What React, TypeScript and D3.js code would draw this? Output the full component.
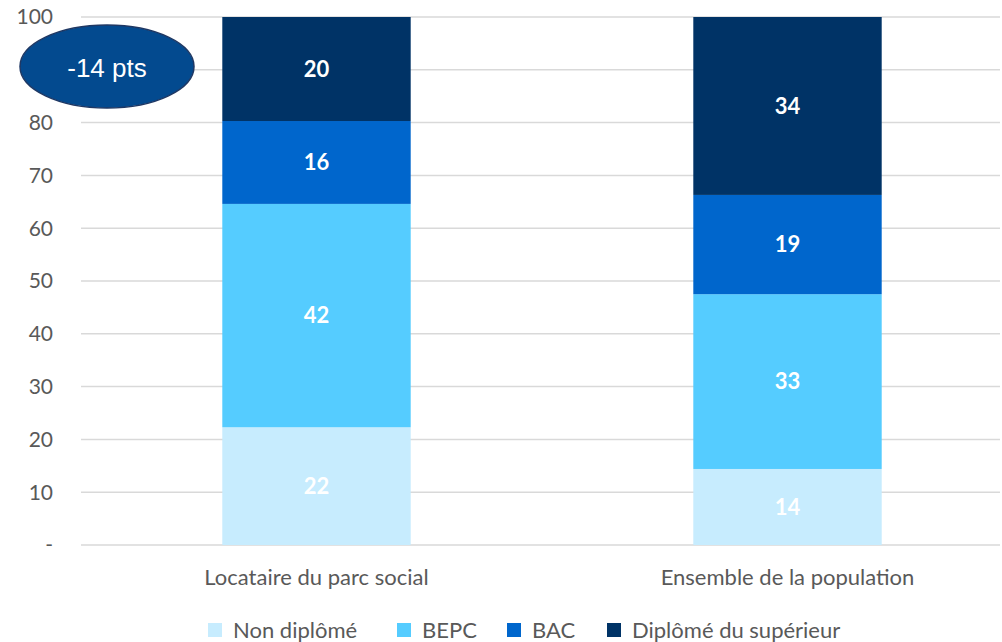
import React from "react";
import * as d3 from "d3";

const categories = ["Locataire du parc social", "Ensemble de la population"];
const seriesNames = ["Non diplômé", "BEPC", "BAC", "Diplômé du supérieur"];
const nonDiplome = [22.3, 14.4];
const bepc = [42.3, 33.1];
const bac = [15.7, 18.8];
const superieur = [19.7, 33.7];
const labelNonDiplome = ["22", "14"];
const labelBepc = ["42", "33"];
const labelBac = ["16", "19"];
const labelSuperieur = ["20", "34"];
const yTicks = [0, 10, 20, 30, 40, 50, 60, 70, 80, 90, 100];
const annotation = "-14 pts";

const colors = ["#C7ECFE", "#55CCFF", "#0066CC", "#003366"];
const W = 1002, H = 642;
const FONT = "Lato, 'Noto Sans', sans-serif";

export default function App() {
  const x = d3.scaleBand<string>().domain(categories).range([81, 1023]).paddingInner(0.6).paddingOuter(0.3);
  const y = d3.scaleLinear().domain([0, 100]).range([545, 17]);
  const series = [nonDiplome, bepc, bac, superieur];
  const labels = [labelNonDiplome, labelBepc, labelBac, labelSuperieur];
  const table = categories.map((c, i) => {
    const o: any = { cat: c };
    seriesNames.forEach((s, j) => (o[s] = series[j][i]));
    return o;
  });
  const stacked = d3.stack<any>().keys(seriesNames)(table);
  const legendX = [208, 397, 507, 607];

  return (
    <svg width={W} height={H} style={{ position: "absolute", left: 0, top: 0, background: "#fff" }} fontFamily={FONT}>
      {yTicks.map((t) => (
        <g key={t}>
          <line x1={81} x2={1000} y1={y(t)} y2={y(t)} stroke="#D9D9D9" strokeWidth={1.5} />
          <text x={53} y={y(t)} dy="0.35em" textAnchor="end" fontSize={21} fill="#595959">
            {t === 0 ? "-" : t}
          </text>
        </g>
      ))}
      {stacked.map((layer, j) => (
        <g key={layer.key}>
          {layer.map((d, i) => (
            <g key={i}>
              <rect x={x(categories[i])} width={x.bandwidth()} y={y(d[1])} height={y(d[0]) - y(d[1])} fill={colors[j]} />
              <text x={x(categories[i])! + x.bandwidth() / 2} y={(y(d[0]) + y(d[1])) / 2} dy="0.35em" textAnchor="middle" fontSize={22} fontWeight="bold" fill="#fff">
                {labels[j][i]}
              </text>
            </g>
          ))}
        </g>
      ))}
      {categories.map((c) => (
        <text key={c} x={x(c)! + x.bandwidth() / 2} y={577} dy="0.35em" textAnchor="middle" fontSize={22} fill="#595959">
          {c}
        </text>
      ))}
      {seriesNames.map((s, j) => (
        <g key={s}>
          <rect x={legendX[j]} y={623} width={14} height={14} fill={colors[j]} />
          <text x={legendX[j] + 25} y={630} dy="0.35em" fontSize={22} fill="#595959">{s}</text>
        </g>
      ))}
      <ellipse cx={107} cy={66.5} rx={87} ry={41.5} fill="#034A8F" stroke="#1F3864" strokeWidth={1.5} />
      <text x={107} y={68} dy="0.35em" textAnchor="middle" fontSize={26} fill="#fff" fontFamily="'Liberation Sans', Arial, sans-serif">
        {annotation}
      </text>
    </svg>
  );
}
